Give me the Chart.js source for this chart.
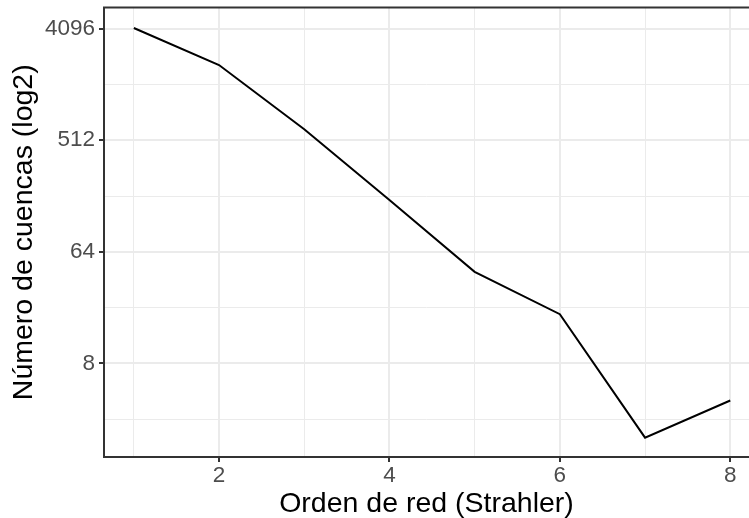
<!DOCTYPE html>
<html>
<head>
<meta charset="utf-8">
<script src="https://cdn.jsdelivr.net/npm/chart.js@4/dist/chart.umd.min.js"></script>
<style>
  html, body { margin: 0; padding: 0; background: #fff; overflow: hidden; }
  #chart { display: block; }
</style>
</head>
<body>
<canvas id="chart" width="749" height="518"></canvas>
<script>
const ordenes = [1, 2, 3, 4, 5, 6, 7, 8];
const cuencas = [4150, 2080, 628, 168, 44, 20, 2, 4];

const xMajor = [2, 4, 6, 8];
const xMinor = [1, 3, 5, 7];
const yMajor = [8, 64, 512, 4096];
const yMinor = [2.83, 22.6, 181, 1448];

const gridColor = '#EBEBEB';
const darkLine = '#333333';
const tickText = '#4D4D4D';
const family = '"Liberation Sans", Arial, Helvetica, sans-serif';

// panel frame: top, left and bottom only, the right side is outside the picture
const panelBorder = {
    id: 'panelBorder',
    afterDraw(chart) {
        const { ctx, chartArea } = chart;
        const { left, top, right, bottom } = chartArea;
        ctx.save();
        ctx.strokeStyle = darkLine;
        ctx.lineWidth = 2;
        ctx.beginPath();
        ctx.moveTo(right + 5, top);
        ctx.lineTo(left, top);
        ctx.lineTo(left, bottom);
        ctx.lineTo(right + 5, bottom);
        ctx.stroke();
        ctx.restore();
    }
};

const isMajorX = v => xMajor.includes(v);
const isMajorY = v => yMajor.includes(v);

new Chart(document.getElementById('chart').getContext('2d'), {
    type: 'line',
    data: {
        datasets: [{
            data: ordenes.map((o, i) => ({ x: o, y: cuencas[i] })),
            borderColor: '#000000',
            borderWidth: 2,
            pointRadius: 0,
            tension: 0,
            fill: false
        }]
    },
    options: {
        responsive: false,
        animation: false,
        layout: { padding: { top: 7.5, right: 0, left: 0, bottom: 0 } },
        plugins: { legend: { display: false }, tooltip: { enabled: false } },
        scales: {
            x: {
                type: 'linear',
                min: 0.65,
                max: 8.22,
                afterBuildTicks: scale => {
                    scale.ticks = [...xMinor, ...xMajor].sort((a, b) => a - b).map(v => ({ value: v }));
                },
                afterFit: scale => {
                    scale.height = 61;
                    scale.paddingLeft = 0;
                    scale.paddingRight = 0;
                },
                border: { display: false },
                grid: {
                    color: gridColor,
                    lineWidth: c => isMajorX(c.tick.value) ? 2 : 1,
                    tickColor: c => isMajorX(c.tick.value) ? darkLine : 'rgba(0,0,0,0)',
                    tickWidth: 2,
                    tickLength: 5
                },
                ticks: {
                    autoSkip: false,
                    maxRotation: 0,
                    padding: 0,
                    color: tickText,
                    font: { family, size: 22.5 },
                    callback: v => isMajorX(v) ? String(v) : ''
                },
                title: {
                    display: true,
                    text: 'Orden de red (Strahler)',
                    color: '#000000',
                    font: { family, size: 28.5, lineHeight: 1 },
                    padding: { top: 0, bottom: 0 }
                }
            },
            y: {
                type: 'logarithmic',
                min: 1.395,
                max: 6080,
                afterBuildTicks: scale => {
                    scale.ticks = [...yMinor, ...yMajor].sort((a, b) => a - b).map(v => ({ value: v }));
                },
                afterFit: scale => {
                    scale.width = 104;
                    scale.paddingTop = 0;
                    scale.paddingBottom = 0;
                },
                border: { display: false },
                grid: {
                    color: gridColor,
                    lineWidth: c => isMajorY(c.tick.value) ? 2 : 1,
                    tickColor: c => isMajorY(c.tick.value) ? darkLine : 'rgba(0,0,0,0)',
                    tickWidth: 2,
                    tickLength: 5
                },
                ticks: {
                    autoSkip: false,
                    padding: 4,
                    color: tickText,
                    font: { family, size: 22.5 },
                    callback: v => isMajorY(v) ? String(v) : ''
                },
                title: {
                    display: true,
                    text: 'Número de cuencas (log2)',
                    color: '#000000',
                    font: { family, size: 28.5, lineHeight: 1 },
                    padding: { top: 10, bottom: 0 }
                }
            }
        }
    },
    plugins: [panelBorder]
});
</script>
</body>
</html>
